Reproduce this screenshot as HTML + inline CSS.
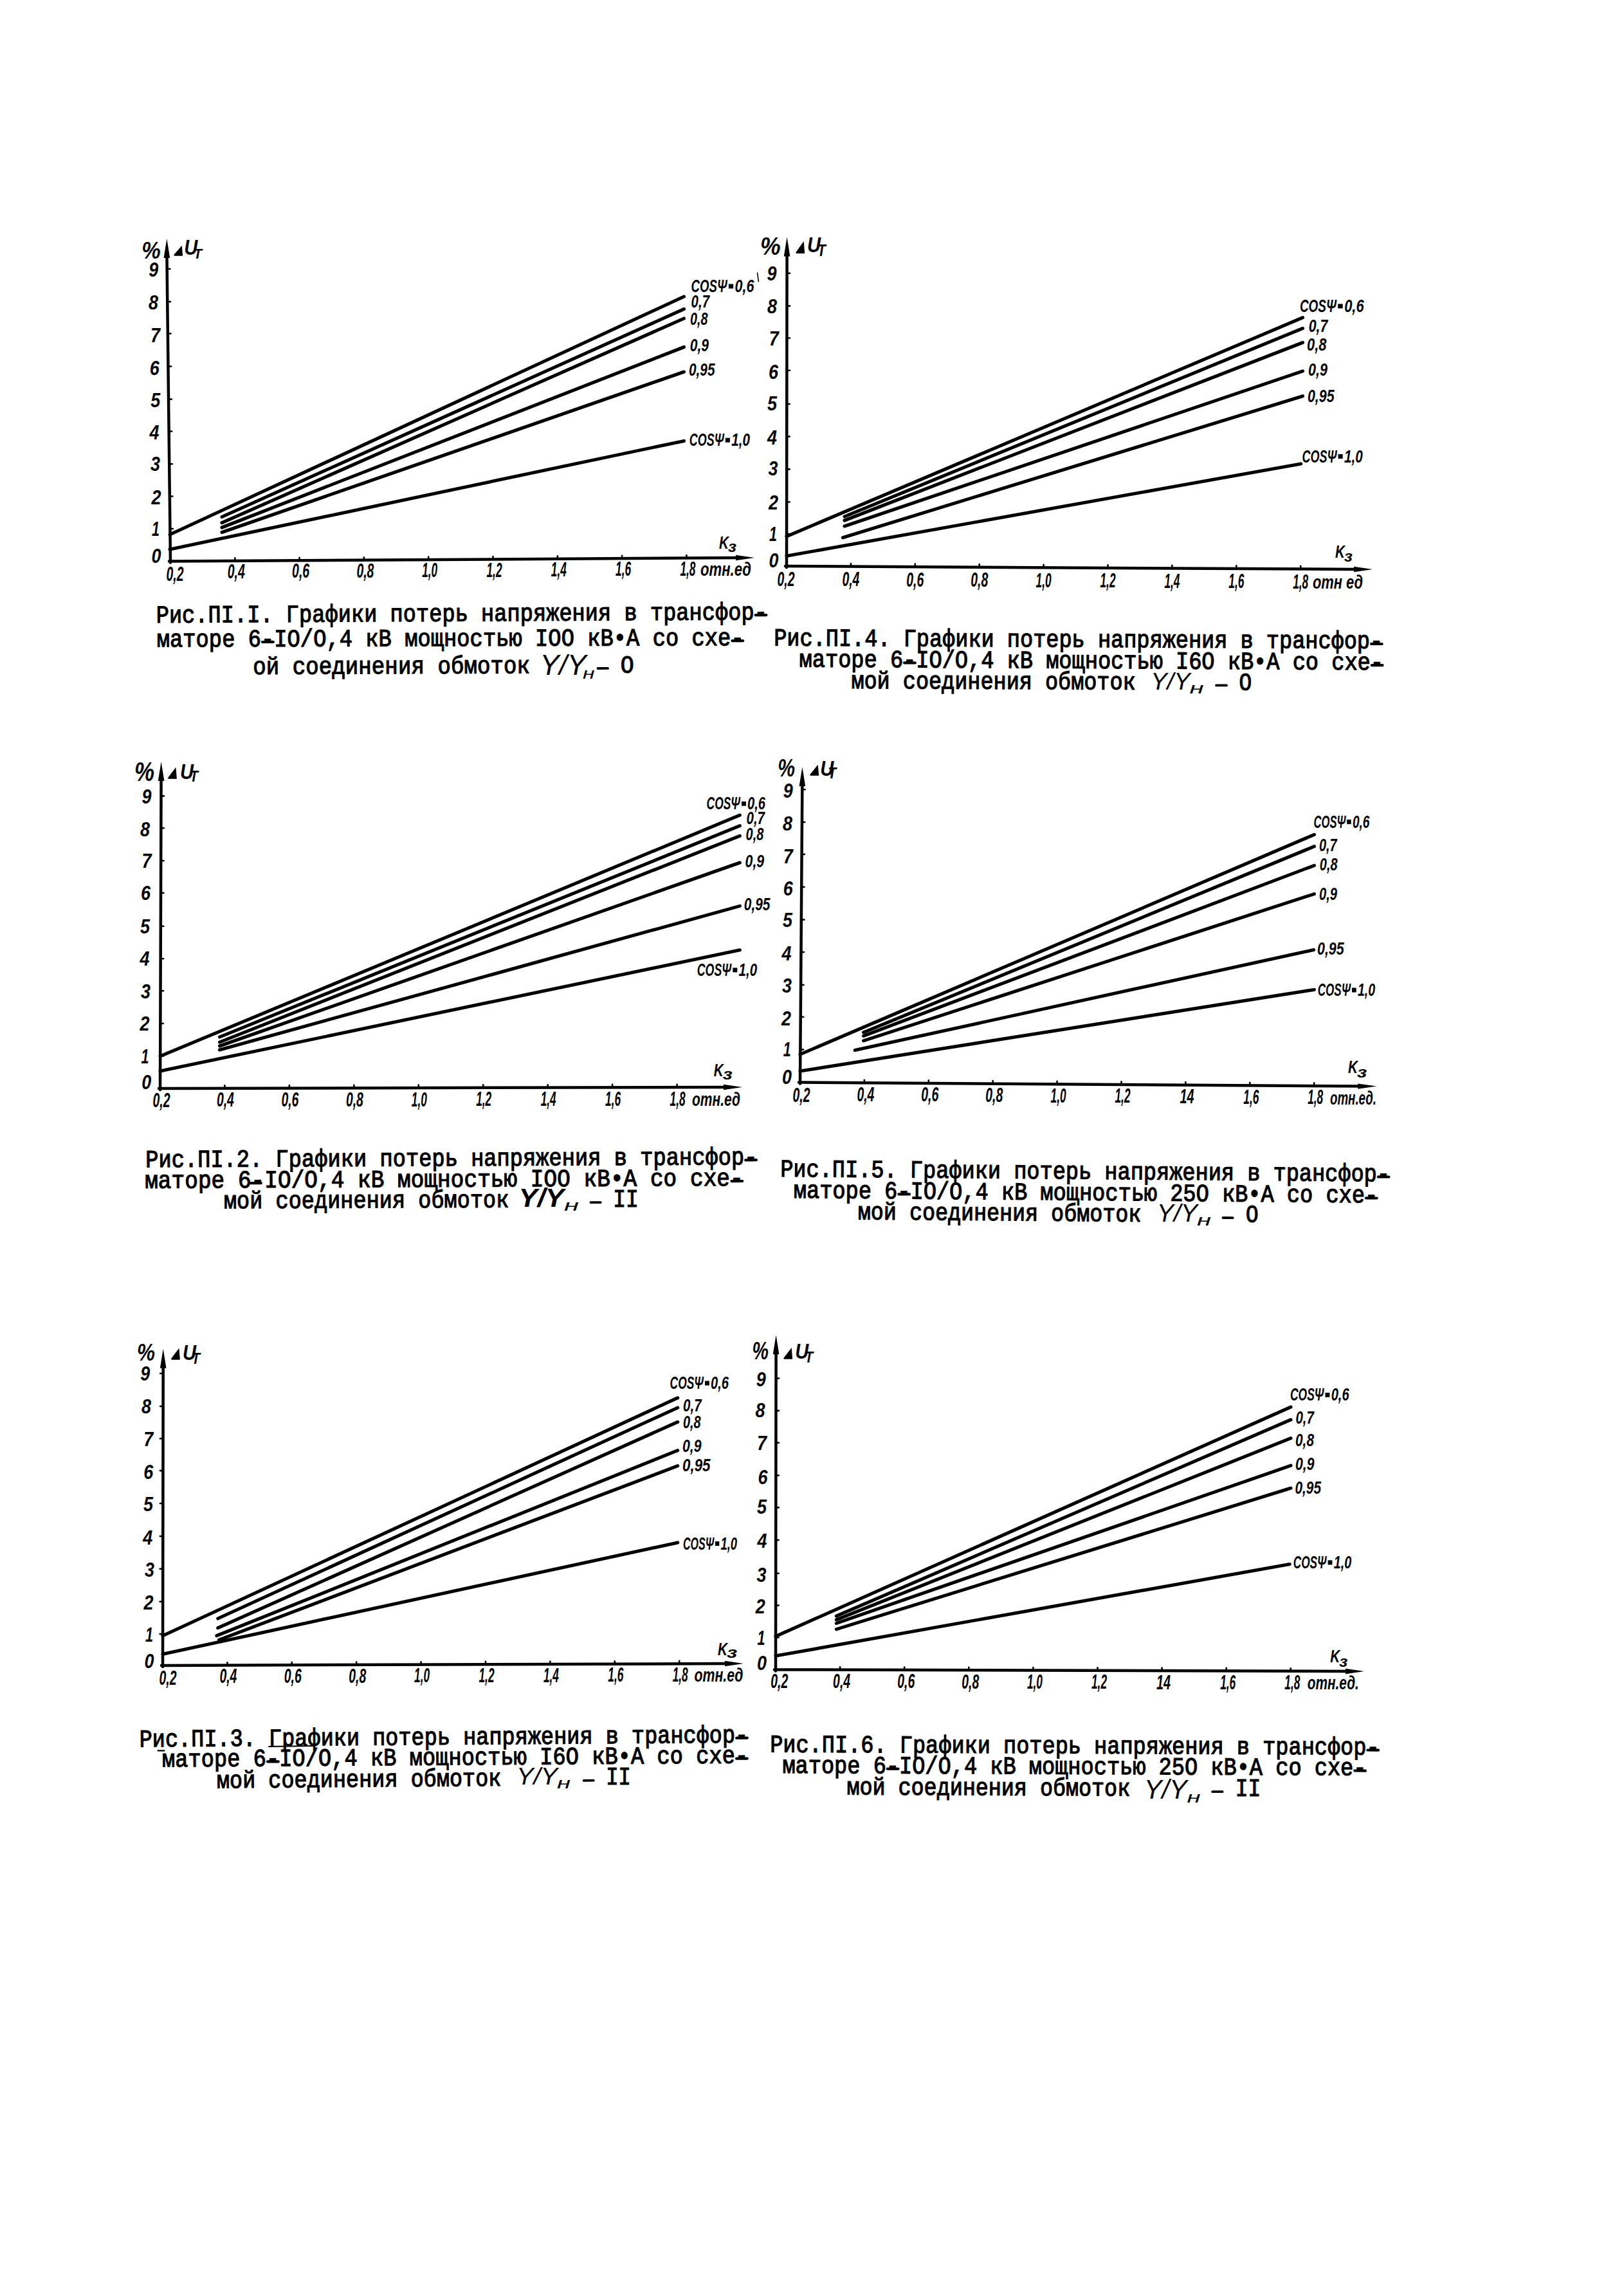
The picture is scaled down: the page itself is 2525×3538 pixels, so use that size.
<!DOCTYPE html>
<html><head><meta charset="utf-8"><style>
html,body{margin:0;padding:0;background:#fff;overflow:hidden;}
svg{display:block;}
text{stroke:none;fill:#000;}
.l{font-family:"Liberation Sans",sans-serif;font-style:italic;stroke:#000;stroke-width:0.9px;}
.b{font-family:"Liberation Sans",sans-serif;font-weight:bold;font-style:italic;}
.i{font-family:"Liberation Sans",sans-serif;font-style:italic;}
.m{font-family:"Liberation Mono",monospace;stroke:#000;stroke-width:1.2px;}
</style></head><body>
<svg width="2525" height="3538" viewBox="0 0 2525 3538" stroke="#000" fill="#000" stroke-linecap="round">
<text class="m" x="242.7" y="968" font-size="38.5" textLength="950.2" lengthAdjust="spacingAndGlyphs" transform="rotate(-0.296 242.7 968)">Рис.ПI.I. Графики потерь напряжения в трансфор-</text>
<line x1="1174.7" y1="956.2" x2="1191.4" y2="956.1" stroke-width="4.2"/>
<text class="m" x="243.7" y="1005.4" font-size="38.5" textLength="913" lengthAdjust="spacingAndGlyphs" transform="rotate(-0.145 243.7 1005.4)">маторе 6-IO/O,4 кВ мощностью IOO кВ•А со схе-</text>
<line x1="408" y1="998" x2="424.8" y2="997.9" stroke-width="4.2"/>
<line x1="1138.4" y1="996.1" x2="1155.2" y2="996.1" stroke-width="4.2"/>
<text class="m" x="393.2" y="1048" font-size="38.5" textLength="430.9" lengthAdjust="spacingAndGlyphs" transform="rotate(-0.213 393.2 1048)">ой соединения обмоток</text>
<text class="i" x="839.4" y="1048.8" font-size="44.3" textLength="72.2" lengthAdjust="spacingAndGlyphs">Y/Y</text>
<text class="i" x="905.9" y="1054.8" font-size="24" textLength="18.6" lengthAdjust="spacingAndGlyphs">н</text>
<line x1="929.5" y1="1039" x2="945.1" y2="1038.9" stroke-width="3.8"/>
<text class="m" x="964.8" y="1045.8" font-size="38.5" textLength="20.9" lengthAdjust="spacingAndGlyphs">O</text>
<text class="m" x="1203.2" y="1003.5" font-size="38.5" textLength="947" lengthAdjust="spacingAndGlyphs" transform="rotate(0.273 1203.2 1003.5)">Рис.ПI.4. Графики потерь напряжения в трансфор-</text>
<line x1="2132.1" y1="1000.9" x2="2148.7" y2="1001" stroke-width="4.2"/>
<text class="m" x="1242.6" y="1036.5" font-size="38.5" textLength="908.4" lengthAdjust="spacingAndGlyphs" transform="rotate(0.297 1242.6 1036.5)">маторе 6-IO/O,4 кВ мощностью I6O кВ•А со схе-</text>
<line x1="1406.1" y1="1030.3" x2="1422.8" y2="1030.4" stroke-width="4.2"/>
<line x1="2132.8" y1="1034.1" x2="2149.5" y2="1034.2" stroke-width="4.2"/>
<text class="m" x="1323.4" y="1070" font-size="38.5" textLength="442.3" lengthAdjust="spacingAndGlyphs" transform="rotate(0.231 1323.4 1070)">мой соединения обмоток</text>
<text class="i" x="1789.3" y="1071.5" font-size="36.0" textLength="61.2" lengthAdjust="spacingAndGlyphs">Y/Y</text>
<text class="i" x="1849.4" y="1077.5" font-size="24" textLength="22.1" lengthAdjust="spacingAndGlyphs">н</text>
<line x1="1891" y1="1065.3" x2="1907.1" y2="1065.4" stroke-width="3.8"/>
<text class="m" x="1926.5" y="1072.5" font-size="38.5" textLength="19.7" lengthAdjust="spacingAndGlyphs">O</text>
<text class="m" x="226.2" y="1814.4" font-size="38.5" textLength="951.2" lengthAdjust="spacingAndGlyphs" transform="rotate(-0.254 226.2 1814.4)">Рис.ПI.2. Графики потерь напряжения в трансфор-</text>
<line x1="1159.2" y1="1803.3" x2="1175.9" y2="1803.2" stroke-width="4.2"/>
<text class="m" x="225.2" y="1846.9" font-size="38.5" textLength="930.5" lengthAdjust="spacingAndGlyphs" transform="rotate(-0.241 225.2 1846.9)">маторе 6-IO/O,4 кВ мощностью IOO кВ•А со  схе-</text>
<line x1="389" y1="1839.2" x2="405.8" y2="1839.1" stroke-width="4.2"/>
<line x1="1137.5" y1="1836.1" x2="1154.2" y2="1836" stroke-width="4.2"/>
<text class="m" x="347.9" y="1878.4" font-size="38.5" textLength="443.5" lengthAdjust="spacingAndGlyphs" transform="rotate(-0.223 347.9 1878.4)">мой соединения обмоток</text>
<text class="b" x="806.4" y="1875.5" font-size="40.1" textLength="70.7" lengthAdjust="spacingAndGlyphs">Y/Y</text>
<text class="i" x="877" y="1881.5" font-size="24" textLength="23" lengthAdjust="spacingAndGlyphs">н</text>
<line x1="918.5" y1="1869.2" x2="933.8" y2="1869.1" stroke-width="3.8"/>
<text class="m" x="953.2" y="1876" font-size="38.5" textLength="39.6" lengthAdjust="spacingAndGlyphs">II</text>
<text class="m" x="1213.2" y="1828.9" font-size="38.5" textLength="947.8" lengthAdjust="spacingAndGlyphs" transform="rotate(0.461 1213.2 1828.9)">Рис.ПI.5. Графики потерь напряжения в трансфор-</text>
<line x1="2142.9" y1="1829.4" x2="2159.5" y2="1829.5" stroke-width="4.2"/>
<text class="m" x="1233.8" y="1861.9" font-size="38.5" textLength="908.4" lengthAdjust="spacingAndGlyphs" transform="rotate(0.481 1233.8 1861.9)">маторе 6-IO/O,4 кВ мощностью 25O кВ•А со схе-</text>
<line x1="1397.3" y1="1856.3" x2="1414" y2="1856.4" stroke-width="4.2"/>
<line x1="2124" y1="1862.4" x2="2140.7" y2="1862.5" stroke-width="4.2"/>
<text class="m" x="1333.8" y="1895.4" font-size="38.5" textLength="440.5" lengthAdjust="spacingAndGlyphs" transform="rotate(0.471 1333.8 1895.4)">мой соединения обмоток</text>
<text class="i" x="1798.8" y="1899.4" font-size="39.0" textLength="63.1" lengthAdjust="spacingAndGlyphs">Y/Y</text>
<text class="i" x="1860.9" y="1905.4" font-size="24" textLength="22" lengthAdjust="spacingAndGlyphs">н</text>
<line x1="1901.5" y1="1893" x2="1916.7" y2="1893.2" stroke-width="3.8"/>
<text class="m" x="1937" y="1900.4" font-size="38.5" textLength="19.6" lengthAdjust="spacingAndGlyphs">O</text>
<text class="m" x="216.7" y="2715.4" font-size="38.5" textLength="946.6" lengthAdjust="spacingAndGlyphs" transform="rotate(-0.413 216.7 2715.4)">Рис.ПI.3. Графики потерь напряжения в трансфор-</text>
<line x1="1145.2" y1="2701.7" x2="1161.8" y2="2701.6" stroke-width="4.2"/>
<text class="m" x="252.1" y="2746.4" font-size="38.5" textLength="911.2" lengthAdjust="spacingAndGlyphs" transform="rotate(-0.366 252.1 2746.4)">маторе 6-IO/O,4 кВ мощностью I6O кВ•А со схе-</text>
<line x1="416.1" y1="2738.4" x2="432.8" y2="2738.3" stroke-width="4.2"/>
<line x1="1145.1" y1="2733.7" x2="1161.8" y2="2733.6" stroke-width="4.2"/>
<text class="m" x="336.9" y="2779.4" font-size="38.5" textLength="442.6" lengthAdjust="spacingAndGlyphs" transform="rotate(-0.455 336.9 2779.4)">мой соединения обмоток</text>
<text class="i" x="803" y="2773.6" font-size="37.4" textLength="64.1" lengthAdjust="spacingAndGlyphs">Y/Y</text>
<text class="i" x="866" y="2779.6" font-size="24" textLength="21.1" lengthAdjust="spacingAndGlyphs">н</text>
<line x1="907.7" y1="2767.9" x2="922.8" y2="2767.7" stroke-width="3.8"/>
<text class="m" x="942.2" y="2774.4" font-size="38.5" textLength="38.7" lengthAdjust="spacingAndGlyphs">II</text>
<text class="m" x="1197.2" y="2723.5" font-size="38.5" textLength="947.4" lengthAdjust="spacingAndGlyphs" transform="rotate(0.249 1197.2 2723.5)">Рис.ПI.6. Графики потерь напряжения в трансфор-</text>
<line x1="2126.5" y1="2720.5" x2="2143.1" y2="2720.6" stroke-width="4.2"/>
<text class="m" x="1216.4" y="2756" font-size="38.5" textLength="908.1" lengthAdjust="spacingAndGlyphs" transform="rotate(0.228 1216.4 2756)">маторе 6-IO/O,4 кВ мощностью 25O кВ•А со схе-</text>
<line x1="1379.8" y1="2749.6" x2="1396.5" y2="2749.7" stroke-width="4.2"/>
<line x1="2106.3" y1="2752.5" x2="2123" y2="2752.6" stroke-width="4.2"/>
<text class="m" x="1316.4" y="2789.5" font-size="38.5" textLength="440.8" lengthAdjust="spacingAndGlyphs" transform="rotate(0.269 1316.4 2789.5)">мой соединения обмоток</text>
<text class="i" x="1778.8" y="2796.3" font-size="43.0" textLength="66.9" lengthAdjust="spacingAndGlyphs">Y/Y</text>
<text class="i" x="1845.6" y="2802.3" font-size="24" textLength="21.1" lengthAdjust="spacingAndGlyphs">н</text>
<line x1="1885.3" y1="2785.2" x2="1900.5" y2="2785.2" stroke-width="3.8"/>
<text class="m" x="1920.8" y="2792.4" font-size="38.5" textLength="39.6" lengthAdjust="spacingAndGlyphs">II</text>
<path d="M265,874.5 L259.4,395" fill="none" stroke-width="4.5"/>
<polygon points="259.4,371 254.6,401 264.2,401" stroke="none"/>
<path d="M263,872.5 L1149,867" fill="none" stroke-width="4.5"/>
<polygon points="1173,867 1144,862.8 1144,871.2" stroke="none"/>
<text class="b" x="235.5" y="875" font-size="31" textLength="15" lengthAdjust="spacingAndGlyphs">0</text>
<line x1="264.4" y1="822" x2="268.9" y2="822" stroke-width="2.6"/>
<text class="b" x="236" y="833.3" font-size="31" textLength="12" lengthAdjust="spacingAndGlyphs">1</text>
<line x1="263.9" y1="771.5" x2="268.4" y2="771.5" stroke-width="2.6"/>
<text class="b" x="235.4" y="783.5" font-size="31" textLength="15" lengthAdjust="spacingAndGlyphs">2</text>
<line x1="263.3" y1="721.3" x2="267.8" y2="721.3" stroke-width="2.6"/>
<text class="b" x="234" y="732.2" font-size="31" textLength="15" lengthAdjust="spacingAndGlyphs">3</text>
<line x1="262.7" y1="670.5" x2="267.2" y2="670.5" stroke-width="2.6"/>
<text class="b" x="232.5" y="682.7" font-size="31" textLength="15" lengthAdjust="spacingAndGlyphs">4</text>
<line x1="262.2" y1="620.6" x2="266.7" y2="620.6" stroke-width="2.6"/>
<text class="b" x="234.3" y="633.3" font-size="31" textLength="15" lengthAdjust="spacingAndGlyphs">5</text>
<line x1="261.6" y1="569.5" x2="266.1" y2="569.5" stroke-width="2.6"/>
<text class="b" x="232.7" y="583.1" font-size="31" textLength="15" lengthAdjust="spacingAndGlyphs">6</text>
<line x1="261" y1="518.5" x2="265.5" y2="518.5" stroke-width="2.6"/>
<text class="b" x="234" y="531.7" font-size="31" textLength="15" lengthAdjust="spacingAndGlyphs">7</text>
<line x1="260.5" y1="469" x2="265" y2="469" stroke-width="2.6"/>
<text class="b" x="231" y="480.7" font-size="31" textLength="15" lengthAdjust="spacingAndGlyphs">8</text>
<line x1="259.9" y1="418" x2="264.4" y2="418" stroke-width="2.6"/>
<text class="b" x="231.2" y="429.7" font-size="31" textLength="15" lengthAdjust="spacingAndGlyphs">9</text>
<text class="b" x="258.5" y="902.5" font-size="30.5" textLength="27" lengthAdjust="spacingAndGlyphs">0,2</text>
<line x1="365.3" y1="871.9" x2="365.3" y2="867.4" stroke-width="2.6"/>
<text class="b" x="353.8" y="898.9" font-size="30.5" textLength="27" lengthAdjust="spacingAndGlyphs">0,4</text>
<line x1="465.6" y1="871.3" x2="465.6" y2="866.8" stroke-width="2.6"/>
<text class="b" x="454.1" y="898.3" font-size="30.5" textLength="27" lengthAdjust="spacingAndGlyphs">0,6</text>
<line x1="565.9" y1="870.7" x2="565.9" y2="866.2" stroke-width="2.6"/>
<text class="b" x="554.4" y="897.7" font-size="30.5" textLength="27" lengthAdjust="spacingAndGlyphs">0,8</text>
<line x1="666.2" y1="870.1" x2="666.2" y2="865.6" stroke-width="2.6"/>
<text class="b" x="656.2" y="897.1" font-size="30.5" textLength="24" lengthAdjust="spacingAndGlyphs">1,0</text>
<line x1="766.5" y1="869.5" x2="766.5" y2="865" stroke-width="2.6"/>
<text class="b" x="756.5" y="896.5" font-size="30.5" textLength="24" lengthAdjust="spacingAndGlyphs">1,2</text>
<line x1="866.8" y1="868.9" x2="866.8" y2="864.4" stroke-width="2.6"/>
<text class="b" x="856.8" y="895.9" font-size="30.5" textLength="24" lengthAdjust="spacingAndGlyphs">1,4</text>
<line x1="967.1" y1="868.2" x2="967.1" y2="863.7" stroke-width="2.6"/>
<text class="b" x="957.1" y="895.2" font-size="30.5" textLength="24" lengthAdjust="spacingAndGlyphs">1,6</text>
<line x1="1067.4" y1="867.6" x2="1067.4" y2="863.1" stroke-width="2.6"/>
<text class="b" x="1057.4" y="894.6" font-size="30.5" textLength="24" lengthAdjust="spacingAndGlyphs">1,8</text>
<text class="b" x="1089" y="894.5" font-size="30" textLength="79" lengthAdjust="spacingAndGlyphs">отн.ед</text>
<polyline points="264,831 1063.5,461" fill="none" stroke-width="5.1"/>
<polyline points="345,803.5 1063.5,480.4" fill="none" stroke-width="5.1"/>
<polyline points="345,812.7 1063.5,495" fill="none" stroke-width="5.1"/>
<polyline points="345,820 1063.5,539.5" fill="none" stroke-width="5.1"/>
<polyline points="345,827.5 1063.5,578" fill="none" stroke-width="5.1"/>
<polyline points="264,854 1063.5,685.4" fill="none" stroke-width="5.1"/>
<text class="b" x="1074.6" y="454" font-size="28.5" textLength="55.8" lengthAdjust="spacingAndGlyphs">COSΨ</text>
<rect x="1132.9" y="441.5" width="7.3" height="7" stroke="none"/>
<text class="b" x="1142.6" y="454" font-size="28.5" textLength="29.9" lengthAdjust="spacingAndGlyphs">0,6</text>
<text class="b" x="1074.6" y="478" font-size="28.5" textLength="28.4" lengthAdjust="spacingAndGlyphs">0,7</text>
<text class="b" x="1073" y="504.5" font-size="28.5" textLength="27.4" lengthAdjust="spacingAndGlyphs">0,8</text>
<text class="b" x="1072.7" y="545.5" font-size="28.5" textLength="29.3" lengthAdjust="spacingAndGlyphs">0,9</text>
<text class="b" x="1071" y="584.2" font-size="28.5" textLength="40.5" lengthAdjust="spacingAndGlyphs">0,95</text>
<text class="b" x="1071.8" y="693.2" font-size="28.5" textLength="53.7" lengthAdjust="spacingAndGlyphs">COSΨ</text>
<rect x="1127.8" y="680.7" width="7.1" height="7" stroke="none"/>
<text class="b" x="1137.3" y="693.2" font-size="28.5" textLength="28.7" lengthAdjust="spacingAndGlyphs">1,0</text>
<text class="b" x="220.3" y="401.6" font-size="37.3" textLength="29.5" lengthAdjust="spacingAndGlyphs">%</text>
<polygon points="282.7,381.8 270.2,396.3 271.2,397.8 284.2,397.8" stroke="none"/>
<text class="b" x="286.2" y="395.8" font-size="33" textLength="21" lengthAdjust="spacingAndGlyphs">U</text>
<text class="b" x="301" y="401.8" font-size="21.9" textLength="13" lengthAdjust="spacingAndGlyphs">T</text>
<text class="b" x="1118" y="853" font-size="28" textLength="15" lengthAdjust="spacingAndGlyphs">K</text>
<text class="b" x="1132" y="857.7" font-size="24" textLength="13" lengthAdjust="spacingAndGlyphs">з</text>
<path d="M1223,882 L1223.6,392.5" fill="none" stroke-width="4.5"/>
<polygon points="1223.6,368.5 1218.8,398.5 1228.4,398.5" stroke="none"/>
<path d="M1221,880 L2110,885" fill="none" stroke-width="4.5"/>
<polygon points="2134,885 2105,880.8 2105,889.2" stroke="none"/>
<text class="b" x="1195.4" y="882.2" font-size="31" textLength="15" lengthAdjust="spacingAndGlyphs">0</text>
<line x1="1223.1" y1="830" x2="1227.6" y2="830" stroke-width="2.6"/>
<text class="b" x="1195.9" y="840.5" font-size="31" textLength="12" lengthAdjust="spacingAndGlyphs">1</text>
<line x1="1223.1" y1="780.2" x2="1227.6" y2="780.2" stroke-width="2.6"/>
<text class="b" x="1195" y="792" font-size="31" textLength="15" lengthAdjust="spacingAndGlyphs">2</text>
<line x1="1223.2" y1="729.4" x2="1227.7" y2="729.4" stroke-width="2.6"/>
<text class="b" x="1194.4" y="739.3" font-size="31" textLength="15" lengthAdjust="spacingAndGlyphs">3</text>
<line x1="1223.2" y1="678.6" x2="1227.7" y2="678.6" stroke-width="2.6"/>
<text class="b" x="1193" y="690.5" font-size="31" textLength="15" lengthAdjust="spacingAndGlyphs">4</text>
<line x1="1223.3" y1="628" x2="1227.8" y2="628" stroke-width="2.6"/>
<text class="b" x="1193" y="637.5" font-size="31" textLength="15" lengthAdjust="spacingAndGlyphs">5</text>
<line x1="1223.4" y1="575.8" x2="1227.9" y2="575.8" stroke-width="2.6"/>
<text class="b" x="1195" y="589" font-size="31" textLength="15" lengthAdjust="spacingAndGlyphs">6</text>
<line x1="1223.4" y1="525.5" x2="1227.9" y2="525.5" stroke-width="2.6"/>
<text class="b" x="1195.8" y="536.5" font-size="31" textLength="15" lengthAdjust="spacingAndGlyphs">7</text>
<line x1="1223.5" y1="475.6" x2="1228" y2="475.6" stroke-width="2.6"/>
<text class="b" x="1193" y="486.5" font-size="31" textLength="15" lengthAdjust="spacingAndGlyphs">8</text>
<line x1="1223.5" y1="424.8" x2="1228" y2="424.8" stroke-width="2.6"/>
<text class="b" x="1192.5" y="435.9" font-size="31" textLength="15" lengthAdjust="spacingAndGlyphs">9</text>
<text class="b" x="1208.5" y="910.5" font-size="30.5" textLength="27" lengthAdjust="spacingAndGlyphs">0,2</text>
<line x1="1322.9" y1="880.5" x2="1322.9" y2="876" stroke-width="2.6"/>
<text class="b" x="1309.4" y="911" font-size="30.5" textLength="27" lengthAdjust="spacingAndGlyphs">0,4</text>
<line x1="1422.8" y1="881.1" x2="1422.8" y2="876.6" stroke-width="2.6"/>
<text class="b" x="1409.3" y="911.6" font-size="30.5" textLength="27" lengthAdjust="spacingAndGlyphs">0,6</text>
<line x1="1522.7" y1="881.6" x2="1522.7" y2="877.1" stroke-width="2.6"/>
<text class="b" x="1509.2" y="912.1" font-size="30.5" textLength="27" lengthAdjust="spacingAndGlyphs">0,8</text>
<line x1="1622.6" y1="882.2" x2="1622.6" y2="877.7" stroke-width="2.6"/>
<text class="b" x="1610.6" y="912.7" font-size="30.5" textLength="24" lengthAdjust="spacingAndGlyphs">1,0</text>
<line x1="1722.5" y1="882.7" x2="1722.5" y2="878.2" stroke-width="2.6"/>
<text class="b" x="1710.5" y="913.2" font-size="30.5" textLength="24" lengthAdjust="spacingAndGlyphs">1,2</text>
<line x1="1822.4" y1="883.3" x2="1822.4" y2="878.8" stroke-width="2.6"/>
<text class="b" x="1810.4" y="913.8" font-size="30.5" textLength="24" lengthAdjust="spacingAndGlyphs">1,4</text>
<line x1="1922.3" y1="883.8" x2="1922.3" y2="879.3" stroke-width="2.6"/>
<text class="b" x="1910.3" y="914.3" font-size="30.5" textLength="24" lengthAdjust="spacingAndGlyphs">1,6</text>
<line x1="2022.2" y1="884.4" x2="2022.2" y2="879.9" stroke-width="2.6"/>
<text class="b" x="2010.2" y="914.9" font-size="30.5" textLength="24" lengthAdjust="spacingAndGlyphs">1,8</text>
<text class="b" x="2041" y="915" font-size="30" textLength="78" lengthAdjust="spacingAndGlyphs">отн ед</text>
<polyline points="1223,833.8 2025.5,493.7" fill="none" stroke-width="5.1"/>
<polyline points="1313,803 2025.5,510.4" fill="none" stroke-width="5.1"/>
<polyline points="1313,809 2025.5,532.5" fill="none" stroke-width="5.1"/>
<polyline points="1313,818 2025.5,576.9" fill="none" stroke-width="5.1"/>
<polyline points="1310.4,835.7 2025.5,615.7" fill="none" stroke-width="5.1"/>
<polyline points="1223,864.3 2022.7,721" fill="none" stroke-width="5.1"/>
<text class="b" x="2020.9" y="484.9" font-size="28.5" textLength="56.8" lengthAdjust="spacingAndGlyphs">COSΨ</text>
<rect x="2080.2" y="472.4" width="7.5" height="7" stroke="none"/>
<text class="b" x="2090.2" y="484.9" font-size="28.5" textLength="30.4" lengthAdjust="spacingAndGlyphs">0,6</text>
<text class="b" x="2034.7" y="516.3" font-size="28.5" textLength="29.6" lengthAdjust="spacingAndGlyphs">0,7</text>
<text class="b" x="2032" y="545" font-size="28.5" textLength="30.5" lengthAdjust="spacingAndGlyphs">0,8</text>
<text class="b" x="2034" y="583.8" font-size="28.5" textLength="30" lengthAdjust="spacingAndGlyphs">0,9</text>
<text class="b" x="2033" y="624.5" font-size="28.5" textLength="41.5" lengthAdjust="spacingAndGlyphs">0,95</text>
<text class="b" x="2024.6" y="718.5" font-size="28.5" textLength="53.7" lengthAdjust="spacingAndGlyphs">COSΨ</text>
<rect x="2080.6" y="706" width="7.1" height="7" stroke="none"/>
<text class="b" x="2090.1" y="718.5" font-size="28.5" textLength="28.7" lengthAdjust="spacingAndGlyphs">1,0</text>
<text class="b" x="1182.1" y="395.6" font-size="39.7" textLength="31.7" lengthAdjust="spacingAndGlyphs">%</text>
<polygon points="1249.7,374.9 1237.2,392.4 1238.2,393.9 1251.2,393.9" stroke="none"/>
<text class="b" x="1254.9" y="392.1" font-size="33" textLength="21" lengthAdjust="spacingAndGlyphs">U</text>
<text class="b" x="1270.8" y="397.6" font-size="26.7" textLength="13" lengthAdjust="spacingAndGlyphs">T</text>
<text class="b" x="2075.9" y="866.8" font-size="28" textLength="15" lengthAdjust="spacingAndGlyphs">K</text>
<text class="b" x="2089.9" y="872.8" font-size="24" textLength="12.9" lengthAdjust="spacingAndGlyphs">з</text>
<path d="M249,1694 L250.6,1208" fill="none" stroke-width="4.5"/>
<polygon points="250.6,1184 245.8,1214 255.4,1214" stroke="none"/>
<path d="M247,1692 L1130,1690" fill="none" stroke-width="4.5"/>
<polygon points="1154,1690 1125,1685.8 1125,1694.2" stroke="none"/>
<text class="b" x="220.3" y="1693.4" font-size="31" textLength="15" lengthAdjust="spacingAndGlyphs">0</text>
<line x1="249.2" y1="1641.8" x2="253.7" y2="1641.8" stroke-width="2.6"/>
<text class="b" x="219.5" y="1653.3" font-size="31" textLength="12" lengthAdjust="spacingAndGlyphs">1</text>
<line x1="249.3" y1="1591" x2="253.8" y2="1591" stroke-width="2.6"/>
<text class="b" x="217.5" y="1602" font-size="31" textLength="15" lengthAdjust="spacingAndGlyphs">2</text>
<line x1="249.5" y1="1540.2" x2="254" y2="1540.2" stroke-width="2.6"/>
<text class="b" x="219" y="1551.5" font-size="31" textLength="15" lengthAdjust="spacingAndGlyphs">3</text>
<line x1="249.6" y1="1490.3" x2="254.1" y2="1490.3" stroke-width="2.6"/>
<text class="b" x="217.4" y="1500.7" font-size="31" textLength="15" lengthAdjust="spacingAndGlyphs">4</text>
<line x1="249.8" y1="1439.7" x2="254.3" y2="1439.7" stroke-width="2.6"/>
<text class="b" x="218" y="1450.7" font-size="31" textLength="15" lengthAdjust="spacingAndGlyphs">5</text>
<line x1="250" y1="1388" x2="254.5" y2="1388" stroke-width="2.6"/>
<text class="b" x="219" y="1399" font-size="31" textLength="15" lengthAdjust="spacingAndGlyphs">6</text>
<line x1="250.1" y1="1338" x2="254.6" y2="1338" stroke-width="2.6"/>
<text class="b" x="220.4" y="1348.5" font-size="31" textLength="15" lengthAdjust="spacingAndGlyphs">7</text>
<line x1="250.3" y1="1287.3" x2="254.8" y2="1287.3" stroke-width="2.6"/>
<text class="b" x="218" y="1300" font-size="31" textLength="15" lengthAdjust="spacingAndGlyphs">8</text>
<line x1="250.4" y1="1237.4" x2="254.9" y2="1237.4" stroke-width="2.6"/>
<text class="b" x="220.5" y="1248.9" font-size="31" textLength="15" lengthAdjust="spacingAndGlyphs">9</text>
<text class="b" x="237.5" y="1720.5" font-size="30.5" textLength="27" lengthAdjust="spacingAndGlyphs">0,2</text>
<line x1="349.4" y1="1691.8" x2="349.4" y2="1687.3" stroke-width="2.6"/>
<text class="b" x="336.9" y="1720.3" font-size="30.5" textLength="27" lengthAdjust="spacingAndGlyphs">0,4</text>
<line x1="449.9" y1="1691.6" x2="449.9" y2="1687.1" stroke-width="2.6"/>
<text class="b" x="437.4" y="1720.1" font-size="30.5" textLength="27" lengthAdjust="spacingAndGlyphs">0,6</text>
<line x1="550.4" y1="1691.3" x2="550.4" y2="1686.8" stroke-width="2.6"/>
<text class="b" x="537.9" y="1719.8" font-size="30.5" textLength="27" lengthAdjust="spacingAndGlyphs">0,8</text>
<line x1="650.8" y1="1691.1" x2="650.8" y2="1686.6" stroke-width="2.6"/>
<text class="b" x="639.8" y="1719.6" font-size="30.5" textLength="24" lengthAdjust="spacingAndGlyphs">1,0</text>
<line x1="751.2" y1="1690.9" x2="751.2" y2="1686.4" stroke-width="2.6"/>
<text class="b" x="740.2" y="1719.4" font-size="30.5" textLength="24" lengthAdjust="spacingAndGlyphs">1,2</text>
<line x1="851.7" y1="1690.7" x2="851.7" y2="1686.2" stroke-width="2.6"/>
<text class="b" x="840.7" y="1719.2" font-size="30.5" textLength="24" lengthAdjust="spacingAndGlyphs">1,4</text>
<line x1="952.1" y1="1690.4" x2="952.1" y2="1685.9" stroke-width="2.6"/>
<text class="b" x="941.1" y="1718.9" font-size="30.5" textLength="24" lengthAdjust="spacingAndGlyphs">1,6</text>
<line x1="1052.6" y1="1690.2" x2="1052.6" y2="1685.7" stroke-width="2.6"/>
<text class="b" x="1041.6" y="1718.7" font-size="30.5" textLength="24" lengthAdjust="spacingAndGlyphs">1,8</text>
<text class="b" x="1076" y="1718.7" font-size="30" textLength="75" lengthAdjust="spacingAndGlyphs">отн.ед</text>
<polyline points="249,1641.8 1150.3,1267.1" fill="none" stroke-width="5.1"/>
<polyline points="341.5,1612 1150.3,1283.7" fill="none" stroke-width="5.1"/>
<polyline points="341.5,1620 1150.3,1299.4" fill="none" stroke-width="5.1"/>
<polyline points="341.5,1626 1150.3,1341" fill="none" stroke-width="5.1"/>
<polyline points="341.5,1632 1150.3,1408.4" fill="none" stroke-width="5.1"/>
<polyline points="249,1665 1150.3,1476.8" fill="none" stroke-width="5.1"/>
<text class="b" x="1098.6" y="1258.3" font-size="28.5" textLength="52.1" lengthAdjust="spacingAndGlyphs">COSΨ</text>
<rect x="1153" y="1245.8" width="6.9" height="7" stroke="none"/>
<text class="b" x="1162.1" y="1258.3" font-size="28.5" textLength="27.9" lengthAdjust="spacingAndGlyphs">0,6</text>
<text class="b" x="1160.5" y="1280.5" font-size="28.5" textLength="28.5" lengthAdjust="spacingAndGlyphs">0,7</text>
<text class="b" x="1159.6" y="1306.3" font-size="28.5" textLength="27.7" lengthAdjust="spacingAndGlyphs">0,8</text>
<text class="b" x="1158.6" y="1347.9" font-size="28.5" textLength="29.6" lengthAdjust="spacingAndGlyphs">0,9</text>
<text class="b" x="1156.8" y="1414.5" font-size="28.5" textLength="40.6" lengthAdjust="spacingAndGlyphs">0,95</text>
<text class="b" x="1083.8" y="1516.9" font-size="28.5" textLength="53.1" lengthAdjust="spacingAndGlyphs">COSΨ</text>
<rect x="1139.3" y="1504.4" width="7" height="7" stroke="none"/>
<text class="b" x="1148.6" y="1516.9" font-size="28.5" textLength="28.4" lengthAdjust="spacingAndGlyphs">1,0</text>
<text class="b" x="208.9" y="1213.6" font-size="41.6" textLength="31" lengthAdjust="spacingAndGlyphs">%</text>
<polygon points="273.4,1192.8 260.9,1209.3 261.9,1210.8 274.9,1210.8" stroke="none"/>
<text class="b" x="279.9" y="1210.8" font-size="33" textLength="21" lengthAdjust="spacingAndGlyphs">U</text>
<text class="b" x="294.9" y="1214.8" font-size="23.3" textLength="13" lengthAdjust="spacingAndGlyphs">T</text>
<text class="b" x="1109.7" y="1672.8" font-size="28" textLength="15" lengthAdjust="spacingAndGlyphs">K</text>
<text class="b" x="1123.7" y="1677.7" font-size="24" textLength="15.1" lengthAdjust="spacingAndGlyphs">з</text>
<path d="M1244,1684.5 L1247.4,1216.2" fill="none" stroke-width="4.5"/>
<polygon points="1247.4,1192.2 1242.6,1222.2 1252.2,1222.2" stroke="none"/>
<path d="M1242,1682.5 L2116.3,1688.6" fill="none" stroke-width="4.5"/>
<polygon points="2140.3,1688.6 2111.3,1684.4 2111.3,1692.8" stroke="none"/>
<text class="b" x="1215.9" y="1684.6" font-size="31" textLength="15" lengthAdjust="spacingAndGlyphs">0</text>
<line x1="1244.4" y1="1631.6" x2="1248.9" y2="1631.6" stroke-width="2.6"/>
<text class="b" x="1217.7" y="1642.1" font-size="31" textLength="12" lengthAdjust="spacingAndGlyphs">1</text>
<line x1="1244.7" y1="1580.8" x2="1249.2" y2="1580.8" stroke-width="2.6"/>
<text class="b" x="1215" y="1594.1" font-size="31" textLength="15" lengthAdjust="spacingAndGlyphs">2</text>
<line x1="1245.1" y1="1531" x2="1249.6" y2="1531" stroke-width="2.6"/>
<text class="b" x="1216" y="1543.3" font-size="31" textLength="15" lengthAdjust="spacingAndGlyphs">3</text>
<line x1="1245.4" y1="1480" x2="1249.9" y2="1480" stroke-width="2.6"/>
<text class="b" x="1215.5" y="1492.9" font-size="31" textLength="15" lengthAdjust="spacingAndGlyphs">4</text>
<line x1="1245.8" y1="1429.6" x2="1250.3" y2="1429.6" stroke-width="2.6"/>
<text class="b" x="1217" y="1440.9" font-size="31" textLength="15" lengthAdjust="spacingAndGlyphs">5</text>
<line x1="1246.1" y1="1378.8" x2="1250.6" y2="1378.8" stroke-width="2.6"/>
<text class="b" x="1217.8" y="1391.5" font-size="31" textLength="15" lengthAdjust="spacingAndGlyphs">6</text>
<line x1="1246.5" y1="1328" x2="1251" y2="1328" stroke-width="2.6"/>
<text class="b" x="1217.8" y="1341.7" font-size="31" textLength="15" lengthAdjust="spacingAndGlyphs">7</text>
<line x1="1246.8" y1="1278" x2="1251.3" y2="1278" stroke-width="2.6"/>
<text class="b" x="1217" y="1290.9" font-size="31" textLength="15" lengthAdjust="spacingAndGlyphs">8</text>
<line x1="1247.2" y1="1227.3" x2="1251.7" y2="1227.3" stroke-width="2.6"/>
<text class="b" x="1217.8" y="1239.7" font-size="31" textLength="15" lengthAdjust="spacingAndGlyphs">9</text>
<text class="b" x="1232.5" y="1712.5" font-size="30.5" textLength="27" lengthAdjust="spacingAndGlyphs">0,2</text>
<line x1="1343.9" y1="1683.2" x2="1343.9" y2="1678.7" stroke-width="2.6"/>
<text class="b" x="1332.4" y="1711.7" font-size="30.5" textLength="27" lengthAdjust="spacingAndGlyphs">0,4</text>
<line x1="1443.8" y1="1683.9" x2="1443.8" y2="1679.4" stroke-width="2.6"/>
<text class="b" x="1432.3" y="1712.4" font-size="30.5" textLength="27" lengthAdjust="spacingAndGlyphs">0,6</text>
<line x1="1543.7" y1="1684.5" x2="1543.7" y2="1680" stroke-width="2.6"/>
<text class="b" x="1532.2" y="1713" font-size="30.5" textLength="27" lengthAdjust="spacingAndGlyphs">0,8</text>
<line x1="1643.6" y1="1685.2" x2="1643.6" y2="1680.7" stroke-width="2.6"/>
<text class="b" x="1633.6" y="1713.7" font-size="30.5" textLength="24" lengthAdjust="spacingAndGlyphs">1,0</text>
<line x1="1743.5" y1="1685.9" x2="1743.5" y2="1681.4" stroke-width="2.6"/>
<text class="b" x="1733.5" y="1714.4" font-size="30.5" textLength="24" lengthAdjust="spacingAndGlyphs">1,2</text>
<line x1="1843.4" y1="1686.6" x2="1843.4" y2="1682.1" stroke-width="2.6"/>
<text class="b" x="1834.4" y="1715.1" font-size="30.5" textLength="22" lengthAdjust="spacingAndGlyphs">14</text>
<line x1="1943.3" y1="1687.3" x2="1943.3" y2="1682.8" stroke-width="2.6"/>
<text class="b" x="1933.3" y="1715.8" font-size="30.5" textLength="24" lengthAdjust="spacingAndGlyphs">1,6</text>
<line x1="2043.2" y1="1687.9" x2="2043.2" y2="1683.4" stroke-width="2.6"/>
<text class="b" x="2033.2" y="1716.4" font-size="30.5" textLength="24" lengthAdjust="spacingAndGlyphs">1,8</text>
<text class="b" x="2068" y="1716.6" font-size="30" textLength="72" lengthAdjust="spacingAndGlyphs">отн.ед.</text>
<polyline points="1244,1639 2043.5,1297.3" fill="none" stroke-width="5.1"/>
<polyline points="1342.6,1604.9 2043.5,1315.7" fill="none" stroke-width="5.1"/>
<polyline points="1342.6,1610.4 2043.5,1345.3" fill="none" stroke-width="5.1"/>
<polyline points="1342.6,1617.8 2043.5,1389.6" fill="none" stroke-width="5.1"/>
<polyline points="1329.3,1632.6 2042.6,1476.5" fill="none" stroke-width="5.1"/>
<polyline points="1244,1665 2043.4,1538.4" fill="none" stroke-width="5.1"/>
<text class="b" x="2042.6" y="1286.6" font-size="28.5" textLength="49.5" lengthAdjust="spacingAndGlyphs">COSΨ</text>
<rect x="2094.2" y="1274.1" width="6.5" height="7" stroke="none"/>
<text class="b" x="2102.9" y="1286.6" font-size="28.5" textLength="26.5" lengthAdjust="spacingAndGlyphs">0,6</text>
<text class="b" x="2050.9" y="1322.5" font-size="28.5" textLength="27.7" lengthAdjust="spacingAndGlyphs">0,7</text>
<text class="b" x="2051.8" y="1353.1" font-size="28.5" textLength="27.7" lengthAdjust="spacingAndGlyphs">0,8</text>
<text class="b" x="2051" y="1399.3" font-size="28.5" textLength="28" lengthAdjust="spacingAndGlyphs">0,9</text>
<text class="b" x="2048" y="1484.3" font-size="28.5" textLength="41.7" lengthAdjust="spacingAndGlyphs">0,95</text>
<text class="b" x="2048.8" y="1548" font-size="28.5" textLength="51" lengthAdjust="spacingAndGlyphs">COSΨ</text>
<rect x="2102" y="1535.5" width="6.7" height="7" stroke="none"/>
<text class="b" x="2110.9" y="1548" font-size="28.5" textLength="27.3" lengthAdjust="spacingAndGlyphs">1,0</text>
<text class="b" x="1209.2" y="1207.2" font-size="38.1" textLength="26.8" lengthAdjust="spacingAndGlyphs">%</text>
<polygon points="1271.7,1188.8 1259.2,1204.3 1260.2,1205.8 1273.2,1205.8" stroke="none"/>
<text class="b" x="1275.2" y="1205.8" font-size="33" textLength="21" lengthAdjust="spacingAndGlyphs">U</text>
<text class="b" x="1287.2" y="1209.8" font-size="23.3" textLength="13" lengthAdjust="spacingAndGlyphs">T</text>
<text class="b" x="2096" y="1667.6" font-size="28" textLength="15" lengthAdjust="spacingAndGlyphs">K</text>
<text class="b" x="2110" y="1674.6" font-size="24" textLength="15.3" lengthAdjust="spacingAndGlyphs">з</text>
<path d="M253,2591 L253.7,2120.8" fill="none" stroke-width="4.5"/>
<polygon points="253.7,2096.8 248.9,2126.8 258.5,2126.8" stroke="none"/>
<path d="M251,2589 L1132,2586" fill="none" stroke-width="4.5"/>
<polygon points="1156,2586 1127,2581.8 1127,2590.2" stroke="none"/>
<text class="b" x="224.6" y="2592.5" font-size="31" textLength="15" lengthAdjust="spacingAndGlyphs">0</text>
<line x1="253.1" y1="2540" x2="248.6" y2="2540" stroke-width="2.6"/>
<text class="b" x="226" y="2552.3" font-size="31" textLength="12" lengthAdjust="spacingAndGlyphs">1</text>
<line x1="253.1" y1="2489.7" x2="248.6" y2="2489.7" stroke-width="2.6"/>
<text class="b" x="223.6" y="2501.9" font-size="31" textLength="15" lengthAdjust="spacingAndGlyphs">2</text>
<line x1="253.2" y1="2438.7" x2="248.7" y2="2438.7" stroke-width="2.6"/>
<text class="b" x="225" y="2451.1" font-size="31" textLength="15" lengthAdjust="spacingAndGlyphs">3</text>
<line x1="253.3" y1="2388" x2="248.8" y2="2388" stroke-width="2.6"/>
<text class="b" x="222.2" y="2400.7" font-size="31" textLength="15" lengthAdjust="spacingAndGlyphs">4</text>
<line x1="253.4" y1="2337" x2="248.9" y2="2337" stroke-width="2.6"/>
<text class="b" x="223" y="2349.3" font-size="31" textLength="15" lengthAdjust="spacingAndGlyphs">5</text>
<line x1="253.4" y1="2286.1" x2="248.9" y2="2286.1" stroke-width="2.6"/>
<text class="b" x="223.2" y="2298.5" font-size="31" textLength="15" lengthAdjust="spacingAndGlyphs">6</text>
<line x1="253.5" y1="2236.3" x2="249" y2="2236.3" stroke-width="2.6"/>
<text class="b" x="223.2" y="2248.1" font-size="31" textLength="15" lengthAdjust="spacingAndGlyphs">7</text>
<line x1="253.6" y1="2186" x2="249.1" y2="2186" stroke-width="2.6"/>
<text class="b" x="220" y="2197.3" font-size="31" textLength="15" lengthAdjust="spacingAndGlyphs">8</text>
<line x1="253.6" y1="2135" x2="249.1" y2="2135" stroke-width="2.6"/>
<text class="b" x="218.3" y="2146" font-size="31" textLength="15" lengthAdjust="spacingAndGlyphs">9</text>
<text class="b" x="247.5" y="2618.5" font-size="30.5" textLength="27" lengthAdjust="spacingAndGlyphs">0,2</text>
<line x1="353.4" y1="2588.7" x2="353.4" y2="2584.2" stroke-width="2.6"/>
<text class="b" x="341.4" y="2616.2" font-size="30.5" textLength="27" lengthAdjust="spacingAndGlyphs">0,4</text>
<line x1="453.8" y1="2588.3" x2="453.8" y2="2583.8" stroke-width="2.6"/>
<text class="b" x="441.8" y="2615.8" font-size="30.5" textLength="27" lengthAdjust="spacingAndGlyphs">0,6</text>
<line x1="554.2" y1="2588" x2="554.2" y2="2583.5" stroke-width="2.6"/>
<text class="b" x="542.2" y="2615.5" font-size="30.5" textLength="27" lengthAdjust="spacingAndGlyphs">0,8</text>
<line x1="654.6" y1="2587.7" x2="654.6" y2="2583.2" stroke-width="2.6"/>
<text class="b" x="644.1" y="2615.2" font-size="30.5" textLength="24" lengthAdjust="spacingAndGlyphs">1,0</text>
<line x1="755" y1="2587.3" x2="755" y2="2582.8" stroke-width="2.6"/>
<text class="b" x="744.5" y="2614.8" font-size="30.5" textLength="24" lengthAdjust="spacingAndGlyphs">1,2</text>
<line x1="855.4" y1="2587" x2="855.4" y2="2582.5" stroke-width="2.6"/>
<text class="b" x="844.9" y="2614.5" font-size="30.5" textLength="24" lengthAdjust="spacingAndGlyphs">1,4</text>
<line x1="955.8" y1="2586.7" x2="955.8" y2="2582.2" stroke-width="2.6"/>
<text class="b" x="945.3" y="2614.2" font-size="30.5" textLength="24" lengthAdjust="spacingAndGlyphs">1,6</text>
<line x1="1056.2" y1="2586.3" x2="1056.2" y2="2581.8" stroke-width="2.6"/>
<text class="b" x="1045.7" y="2613.8" font-size="30.5" textLength="24" lengthAdjust="spacingAndGlyphs">1,8</text>
<text class="b" x="1079.5" y="2613.8" font-size="30" textLength="76" lengthAdjust="spacingAndGlyphs">отн.ед</text>
<polyline points="253,2542.7 1053.7,2172.9" fill="none" stroke-width="5.1"/>
<polyline points="338.7,2516 1053.7,2188.2" fill="none" stroke-width="5.1"/>
<polyline points="338.7,2530.7 1053.7,2210.4" fill="none" stroke-width="5.1"/>
<polyline points="336.9,2542.7 1053.7,2254.7" fill="none" stroke-width="5.1"/>
<polyline points="340.6,2549.2 1053.7,2278.7" fill="none" stroke-width="5.1"/>
<polyline points="253,2571.4 1053.7,2397.9" fill="none" stroke-width="5.1"/>
<text class="b" x="1041.6" y="2159.1" font-size="28.5" textLength="52.1" lengthAdjust="spacingAndGlyphs">COSΨ</text>
<rect x="1096" y="2146.6" width="6.9" height="7" stroke="none"/>
<text class="b" x="1105.1" y="2159.1" font-size="28.5" textLength="27.9" lengthAdjust="spacingAndGlyphs">0,6</text>
<text class="b" x="1062" y="2194.2" font-size="28.5" textLength="28.6" lengthAdjust="spacingAndGlyphs">0,7</text>
<text class="b" x="1062" y="2220" font-size="28.5" textLength="27.7" lengthAdjust="spacingAndGlyphs">0,8</text>
<text class="b" x="1061" y="2257" font-size="28.5" textLength="29.6" lengthAdjust="spacingAndGlyphs">0,9</text>
<text class="b" x="1061" y="2286.5" font-size="28.5" textLength="43.5" lengthAdjust="spacingAndGlyphs">0,95</text>
<text class="b" x="1062" y="2408.5" font-size="28.5" textLength="47.9" lengthAdjust="spacingAndGlyphs">COSΨ</text>
<rect x="1112" y="2396" width="6.3" height="7" stroke="none"/>
<text class="b" x="1120.4" y="2408.5" font-size="28.5" textLength="25.6" lengthAdjust="spacingAndGlyphs">1,0</text>
<text class="b" x="213" y="2114.5" font-size="37.1" textLength="28" lengthAdjust="spacingAndGlyphs">%</text>
<polygon points="278.4,2095.8 265.9,2112.3 266.9,2113.8 279.9,2113.8" stroke="none"/>
<text class="b" x="283.9" y="2113.8" font-size="33" textLength="21" lengthAdjust="spacingAndGlyphs">U</text>
<text class="b" x="297.9" y="2119.8" font-size="23.3" textLength="13" lengthAdjust="spacingAndGlyphs">T</text>
<text class="b" x="1116" y="2572.8" font-size="28" textLength="15" lengthAdjust="spacingAndGlyphs">K</text>
<text class="b" x="1130" y="2576.6" font-size="24" textLength="16.3" lengthAdjust="spacingAndGlyphs">з</text>
<path d="M1206,2597.4 L1206.6,2099.2" fill="none" stroke-width="4.5"/>
<polygon points="1206.6,2075.2 1201.8,2105.2 1211.4,2105.2" stroke="none"/>
<path d="M1204,2595.4 L2097,2598" fill="none" stroke-width="4.5"/>
<polygon points="2121,2598 2092,2593.8 2092,2602.2" stroke="none"/>
<text class="b" x="1177" y="2596.1" font-size="31" textLength="15" lengthAdjust="spacingAndGlyphs">0</text>
<line x1="1206.1" y1="2545.5" x2="1210.6" y2="2545.5" stroke-width="2.6"/>
<text class="b" x="1177.6" y="2556.9" font-size="31" textLength="12" lengthAdjust="spacingAndGlyphs">1</text>
<line x1="1206.1" y1="2495.6" x2="1210.6" y2="2495.6" stroke-width="2.6"/>
<text class="b" x="1174.7" y="2508" font-size="31" textLength="15" lengthAdjust="spacingAndGlyphs">2</text>
<line x1="1206.2" y1="2445.7" x2="1210.7" y2="2445.7" stroke-width="2.6"/>
<text class="b" x="1176.5" y="2458.5" font-size="31" textLength="15" lengthAdjust="spacingAndGlyphs">3</text>
<line x1="1206.2" y1="2394" x2="1210.7" y2="2394" stroke-width="2.6"/>
<text class="b" x="1177.5" y="2406.3" font-size="31" textLength="15" lengthAdjust="spacingAndGlyphs">4</text>
<line x1="1206.3" y1="2343.4" x2="1210.8" y2="2343.4" stroke-width="2.6"/>
<text class="b" x="1177" y="2353" font-size="31" textLength="15" lengthAdjust="spacingAndGlyphs">5</text>
<line x1="1206.3" y1="2293.5" x2="1210.8" y2="2293.5" stroke-width="2.6"/>
<text class="b" x="1178.4" y="2307.2" font-size="31" textLength="15" lengthAdjust="spacingAndGlyphs">6</text>
<line x1="1206.4" y1="2242.7" x2="1210.9" y2="2242.7" stroke-width="2.6"/>
<text class="b" x="1177" y="2253.7" font-size="31" textLength="15" lengthAdjust="spacingAndGlyphs">7</text>
<line x1="1206.5" y1="2192.9" x2="1211" y2="2192.9" stroke-width="2.6"/>
<text class="b" x="1174.5" y="2203.3" font-size="31" textLength="15" lengthAdjust="spacingAndGlyphs">8</text>
<line x1="1206.5" y1="2142.6" x2="1211" y2="2142.6" stroke-width="2.6"/>
<text class="b" x="1175.7" y="2154.8" font-size="31" textLength="15" lengthAdjust="spacingAndGlyphs">9</text>
<text class="b" x="1198.2" y="2623.8" font-size="30.5" textLength="27" lengthAdjust="spacingAndGlyphs">0,2</text>
<line x1="1306.1" y1="2595.7" x2="1306.1" y2="2591.2" stroke-width="2.6"/>
<text class="b" x="1295.1" y="2624.1" font-size="30.5" textLength="27" lengthAdjust="spacingAndGlyphs">0,4</text>
<line x1="1406.2" y1="2596" x2="1406.2" y2="2591.5" stroke-width="2.6"/>
<text class="b" x="1395.2" y="2624.4" font-size="30.5" textLength="27" lengthAdjust="spacingAndGlyphs">0,6</text>
<line x1="1506.3" y1="2596.3" x2="1506.3" y2="2591.8" stroke-width="2.6"/>
<text class="b" x="1495.3" y="2624.7" font-size="30.5" textLength="27" lengthAdjust="spacingAndGlyphs">0,8</text>
<line x1="1606.4" y1="2596.5" x2="1606.4" y2="2592" stroke-width="2.6"/>
<text class="b" x="1596.9" y="2624.9" font-size="30.5" textLength="24" lengthAdjust="spacingAndGlyphs">1,0</text>
<line x1="1706.5" y1="2596.8" x2="1706.5" y2="2592.3" stroke-width="2.6"/>
<text class="b" x="1697" y="2625.2" font-size="30.5" textLength="24" lengthAdjust="spacingAndGlyphs">1,2</text>
<line x1="1806.6" y1="2597.1" x2="1806.6" y2="2592.6" stroke-width="2.6"/>
<text class="b" x="1798.1" y="2625.5" font-size="30.5" textLength="22" lengthAdjust="spacingAndGlyphs">14</text>
<line x1="1906.7" y1="2597.4" x2="1906.7" y2="2592.9" stroke-width="2.6"/>
<text class="b" x="1897.2" y="2625.8" font-size="30.5" textLength="24" lengthAdjust="spacingAndGlyphs">1,6</text>
<line x1="2006.8" y1="2597.7" x2="2006.8" y2="2593.2" stroke-width="2.6"/>
<text class="b" x="1997.3" y="2626.1" font-size="30.5" textLength="24" lengthAdjust="spacingAndGlyphs">1,8</text>
<text class="b" x="2032.8" y="2626.1" font-size="30" textLength="80" lengthAdjust="spacingAndGlyphs">отн.ед.</text>
<polyline points="1206,2543.7 2007,2187.1" fill="none" stroke-width="5.1"/>
<polyline points="1300.4,2512.2 2007,2206.9" fill="none" stroke-width="5.1"/>
<polyline points="1300.4,2517.8 2007,2235.7" fill="none" stroke-width="5.1"/>
<polyline points="1300.4,2523.3 2007,2278.2" fill="none" stroke-width="5.1"/>
<polyline points="1300.4,2532.6 2007,2313.3" fill="none" stroke-width="5.1"/>
<polyline points="1206,2574.1 2005.2,2431.5" fill="none" stroke-width="5.1"/>
<text class="b" x="2006" y="2177.4" font-size="28.5" textLength="52.2" lengthAdjust="spacingAndGlyphs">COSΨ</text>
<rect x="2060.5" y="2164.9" width="6.9" height="7" stroke="none"/>
<text class="b" x="2069.7" y="2177.4" font-size="28.5" textLength="27.9" lengthAdjust="spacingAndGlyphs">0,6</text>
<text class="b" x="2014.4" y="2213.4" font-size="28.5" textLength="28.6" lengthAdjust="spacingAndGlyphs">0,7</text>
<text class="b" x="2014" y="2247.5" font-size="28.5" textLength="29" lengthAdjust="spacingAndGlyphs">0,8</text>
<text class="b" x="2014" y="2284.5" font-size="28.5" textLength="29.5" lengthAdjust="spacingAndGlyphs">0,9</text>
<text class="b" x="2013.5" y="2321.5" font-size="28.5" textLength="40.5" lengthAdjust="spacingAndGlyphs">0,95</text>
<text class="b" x="2010.7" y="2437.9" font-size="28.5" textLength="51.6" lengthAdjust="spacingAndGlyphs">COSΨ</text>
<rect x="2064.6" y="2425.4" width="6.8" height="7" stroke="none"/>
<text class="b" x="2073.7" y="2437.9" font-size="28.5" textLength="27.6" lengthAdjust="spacingAndGlyphs">1,0</text>
<text class="b" x="1169.5" y="2113.4" font-size="38.3" textLength="25.4" lengthAdjust="spacingAndGlyphs">%</text>
<polygon points="1230.7,2095 1218.2,2111.2 1219.2,2112.7 1232.2,2112.7" stroke="none"/>
<text class="b" x="1236.2" y="2112" font-size="33" textLength="21" lengthAdjust="spacingAndGlyphs">U</text>
<text class="b" x="1251.2" y="2118" font-size="24.7" textLength="13" lengthAdjust="spacingAndGlyphs">T</text>
<text class="b" x="2068.3" y="2584.2" font-size="28" textLength="15" lengthAdjust="spacingAndGlyphs">K</text>
<text class="b" x="2082.3" y="2591.2" font-size="24" textLength="13" lengthAdjust="spacingAndGlyphs">з</text>
<line x1="1177.6" y1="424.3" x2="1179.4" y2="437.7" stroke-width="1.6"/>
<line x1="418" y1="2715" x2="487" y2="2714" stroke-width="2.2"/>
<line x1="245.5" y1="2721.3" x2="255.5" y2="2721.3" stroke-width="2.2"/>
</svg></body></html>
